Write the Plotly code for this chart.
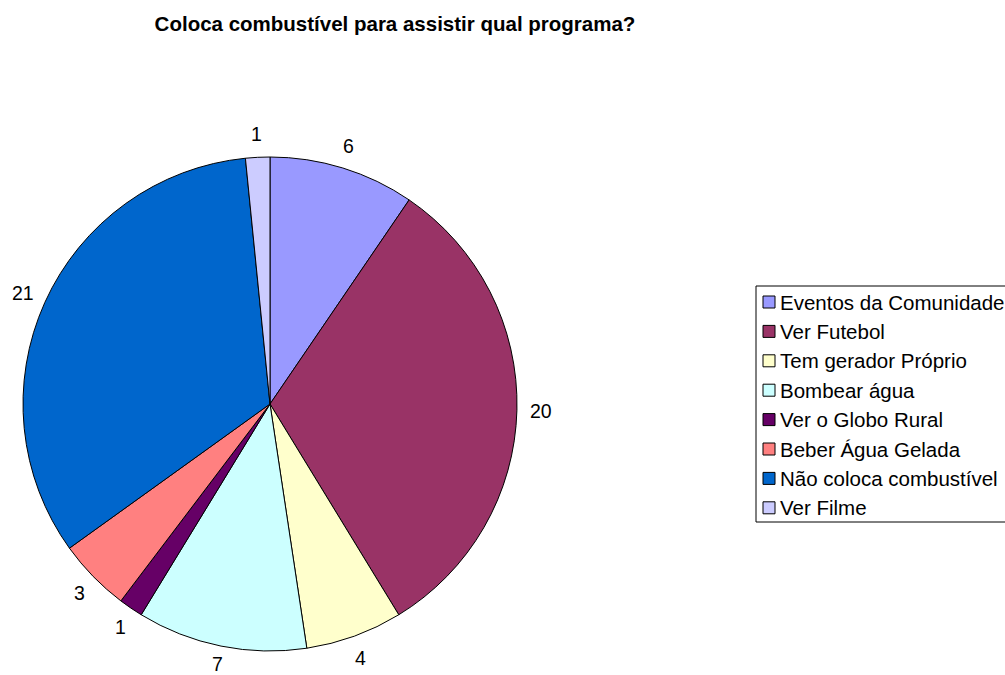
import math
import plotly.graph_objects as go

# Survey answers and counts
categories = [
    "Eventos da Comunidade",
    "Ver Futebol",
    "Tem gerador Próprio",
    "Bombear água",
    "Ver o Globo Rural",
    "Beber Água Gelada",
    "Não coloca combustível",
    "Ver Filme",
]
counts = [6, 20, 4, 7, 1, 3, 21, 1]
colors = ["#9999FF", "#993366", "#FFFFCC", "#CCFFFF",
          "#660066", "#FF8080", "#0066CC", "#CCCCFF"]

W, H = 1005, 675
cx, cy, r = 270, 404, 247          # pie centre and radius (px)
FONT = "Arial, Liberation Sans"
LABEL_SIZE = 19.5
LEGEND_SIZE = 20.5


def px(x):
    return x / W


def py(y):
    return 1 - y / H


fig = go.Figure(go.Pie(
    labels=categories,
    values=counts,
    sort=False,
    direction="clockwise",
    rotation=0,
    marker=dict(colors=colors, line=dict(color="black", width=1)),
    textinfo="none",
    domain=dict(x=[px(cx - r), px(cx + r)], y=[py(cy + r), py(cy - r)]),
    hoverinfo="label+value",
    showlegend=False,
))

annotations = []
shapes = []

# Value labels just outside the rim, pushed outward along each slice's mid-angle
total = sum(counts)
cum = 0
for v in counts:
    theta = 2 * math.pi * (cum + v / 2) / total
    cum += v
    s, c = math.sin(theta), math.cos(theta)
    ax = cx + (r + 13) * s
    ay = cy - (r + 13) * c
    w = 11 * len(str(v))
    lx = ax + s * w / 2
    ly = min(ay - c * 10, H - 11)   # keep the lowest label inside the page
    annotations.append(dict(
        x=px(lx), y=py(ly), xref="paper", yref="paper",
        text=str(v), showarrow=False, xanchor="center", yanchor="middle",
        font=dict(family=FONT, size=LABEL_SIZE, color="black"),
    ))

# Legend box with swatches and names
lg_left, lg_top, lg_bottom = 756, 286, 522
row0, row_step = 302, 29.4
shapes.append(dict(
    type="rect", xref="paper", yref="paper",
    x0=px(lg_left), x1=px(W + 10), y0=py(lg_bottom), y1=py(lg_top),
    line=dict(color="black", width=1), fillcolor="white", layer="below",
))
for i, (name, col) in enumerate(zip(categories, colors)):
    yc = row0 + i * row_step
    shapes.append(dict(
        type="rect", xref="paper", yref="paper",
        x0=px(763), x1=px(775), y0=py(yc + 6), y1=py(yc - 6),
        line=dict(color="black", width=1), fillcolor=col,
    ))
    annotations.append(dict(
        x=px(778), y=py(yc), xref="paper", yref="paper",
        text=name, showarrow=False, xanchor="left", yanchor="middle",
        font=dict(family=FONT, size=LEGEND_SIZE, color="black"),
    ))

fig.update_layout(
    width=W, height=H,
    margin=dict(l=0, r=0, t=0, b=0),
    paper_bgcolor="white",
    plot_bgcolor="white",
    font=dict(family=FONT, color="black"),
    title=dict(
        text="<b>Coloca combustível para assistir qual programa?</b>",
        x=px(395), xanchor="center", y=py(24), yanchor="middle",
        font=dict(size=20.5, family=FONT, color="black"),
    ),
    annotations=annotations,
    shapes=shapes,
    showlegend=False,
)

fig.write_html("out.html")
